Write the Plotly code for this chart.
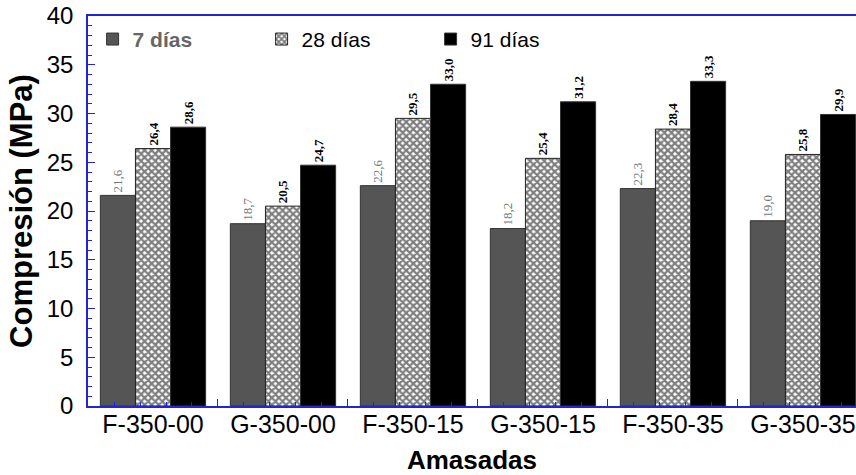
import plotly.graph_objects as go

categories = ["F-350-00", "G-350-00", "F-350-15", "G-350-15", "F-350-35", "G-350-35"]
series_names = ["7 días", "28 días", "91 días"]
vals_7 = [21.6, 18.7, 22.6, 18.2, 22.3, 19.0]
vals_28 = [26.4, 20.5, 29.5, 25.4, 28.4, 25.8]
vals_91 = [28.6, 24.7, 33.0, 31.2, 33.3, 29.9]
y_ticks = [0, 5, 10, 15, 20, 25, 30, 35, 40]

BLUE = "#2323dc"
xpos = list(range(len(categories)))


def lab(v):
    return [f"{x:.1f}".replace(".", ",") for x in v]


fig = go.Figure()
fig.add_trace(go.Bar(
    x=xpos, y=vals_7, name='<span style="color:#666666"><b>' + series_names[0] + '</b></span>',
    marker=dict(color="#555555", line=dict(color="#333333", width=1)),
    text=lab(vals_7), textposition="outside", textangle=-90,
    textfont=dict(family="Liberation Serif", size=13, color="#777777"),
    cliponaxis=False,
))
fig.add_trace(go.Bar(
    x=xpos, y=vals_28, name=series_names[1],
    marker=dict(color="white", line=dict(color="#222222", width=1),
                pattern=dict(shape="x", fgcolor="black", bgcolor="white", size=5, solidity=0.7)),
    text=lab(vals_28), textposition="outside", textangle=-90,
    textfont=dict(family="Liberation Serif", size=13, color="black", weight="bold"),
    cliponaxis=False,
))
fig.add_trace(go.Bar(
    x=xpos, y=vals_91, name=series_names[2],
    marker=dict(color="black", line=dict(color="#333333", width=1)),
    text=lab(vals_91), textposition="outside", textangle=-90,
    textfont=dict(family="Liberation Serif", size=13, color="black", weight="bold"),
    cliponaxis=False,
))
# helper invisible trace for boundary tick axis
fig.add_trace(go.Scatter(x=[None], y=[None], xaxis="x2", showlegend=False, hoverinfo="skip"))

xr = [-0.5, 5.408]
fig.update_layout(
    width=856, height=475,
    margin=dict(l=88, r=0, t=16, b=69, autoexpand=False),
    paper_bgcolor="white", plot_bgcolor="white",
    barmode="group", bargap=0.19, bargroupgap=0,
    font=dict(family="Liberation Sans, Arial", color="black"),
    showlegend=True,
    legend=dict(orientation="h", x=0.006, y=0.94, xanchor="left", yanchor="middle",
                font=dict(size=21), entrywidth=124, bgcolor="rgba(0,0,0,0)"),
    xaxis=dict(range=xr, tickvals=xpos, ticktext=categories, ticks="",
               tickfont=dict(size=25), showline=True, linecolor=BLUE, linewidth=1.5,
               mirror=True, showgrid=False, zeroline=False, ticklabelstandoff=-5,
               title=dict(text="<b>Amasadas</b>", font=dict(size=26), standoff=15)),
    xaxis2=dict(range=xr, overlaying="x", anchor="y", side="bottom",
                tick0=-0.5, dtick=1, ticks="inside", ticklen=7, tickcolor=BLUE,
                minor=dict(dtick=0.2, tick0=-0.5, ticks="inside", ticklen=4, tickcolor=BLUE),
                showticklabels=False, showgrid=False, zeroline=False, showline=False),
    yaxis=dict(range=[0, 40], tickvals=y_ticks, ticks="inside", ticklen=7, tickcolor=BLUE,
               minor=dict(dtick=1, ticks="inside", ticklen=4, tickcolor=BLUE),
               tickfont=dict(size=24), showline=True, linecolor=BLUE, linewidth=1.5,
               showgrid=False, zeroline=False, ticklabelstandoff=8, ticklabeloverflow="allow",
               title=dict(text="<b>Compresión (MPa)</b>", font=dict(size=31), standoff=5)),
)
fig.write_html("out.html", config={"displayModeBar": False},
               post_script="document.body.style.margin='0';")
